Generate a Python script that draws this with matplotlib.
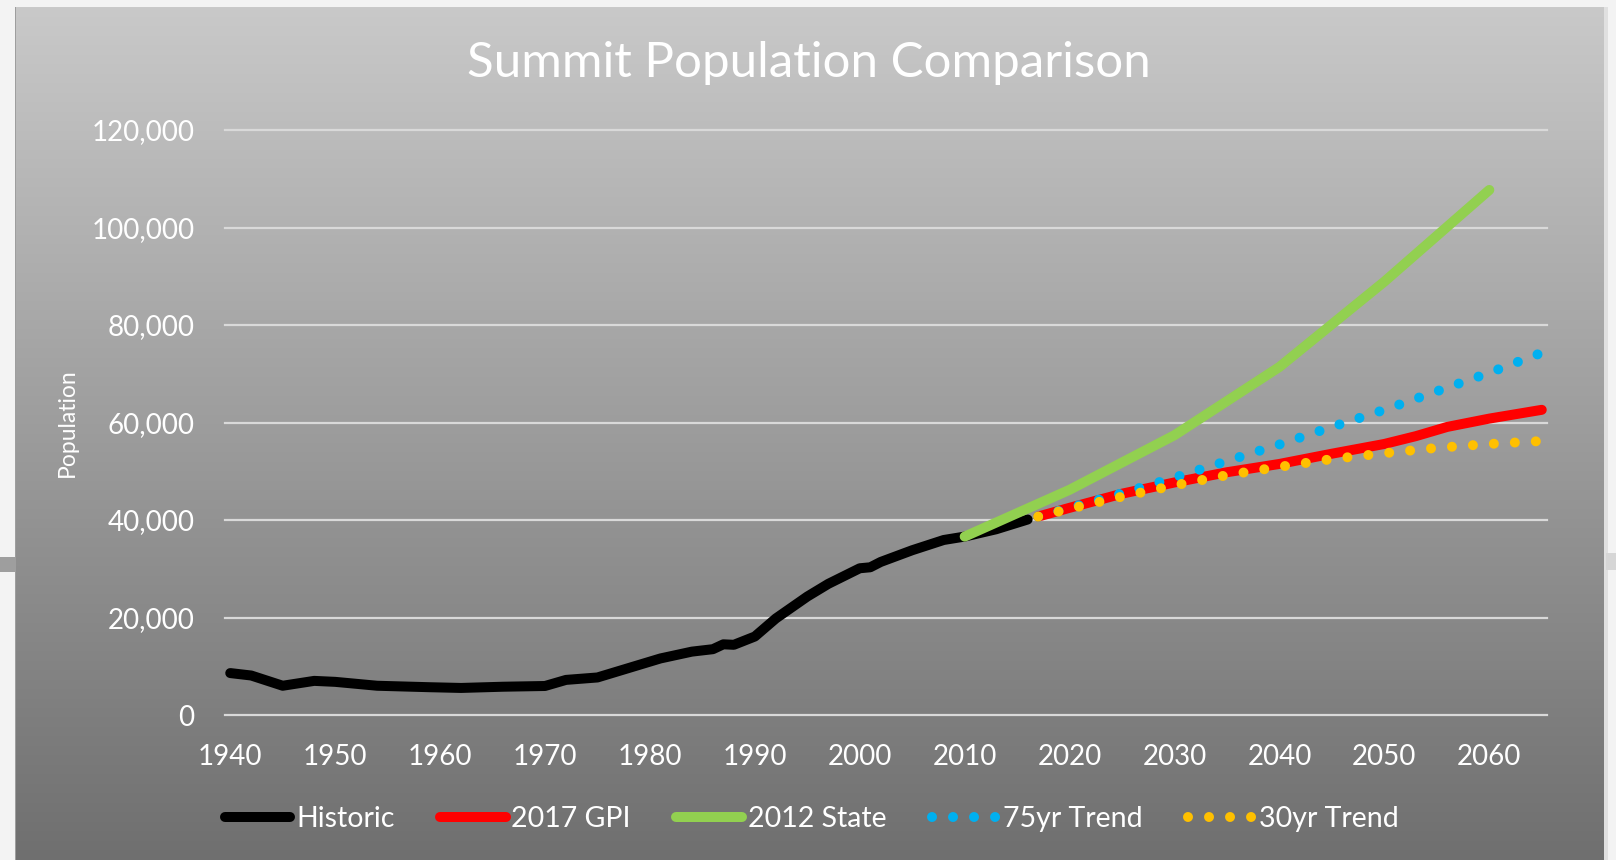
import numpy as np
import matplotlib
matplotlib.use("Agg")
import matplotlib.pyplot as plt
from matplotlib.ticker import FuncFormatter

plt.rcParams['font.family'] = ['Lato', 'DejaVu Sans']

# --- data ---
hist_years = [1940, 1942, 1945, 1948, 1950, 1954, 1959, 1962, 1966, 1970, 1972, 1975,
              1979, 1981, 1984, 1986, 1987, 1988, 1990, 1992, 1995, 1997, 2000, 2001,
              2002, 2005, 2008, 2010, 2013, 2016]
hist_pop = [8600, 8100, 6000, 7000, 6800, 6000, 5700, 5550, 5800, 5950, 7200, 7700,
            10300, 11600, 13000, 13500, 14500, 14400, 16100, 19800, 24300, 26900, 30100, 30300,
            31400, 33800, 35900, 36600, 38100, 40100]

gpi_years = [2017, 2020, 2025, 2030, 2035, 2040, 2045, 2050, 2053, 2056, 2060, 2065]
gpi_pop = [40700, 42500, 45400, 47700, 49800, 51500, 53600, 55600, 57200, 59100, 60800, 62600]

state_years = [2010, 2020, 2030, 2040, 2050, 2060]
state_pop = [36600, 46200, 57400, 71400, 88900, 107700]

trend_years = [2017, 2020, 2025, 2030, 2035, 2040, 2045, 2050, 2055, 2060, 2065]
trend75_pop = [40700, 42500, 45500, 48700, 52100, 55500, 59100, 62600, 66400, 70200, 74300]
trend30_pop = [40700, 42300, 44800, 47100, 49200, 50900, 52500, 53700, 54800, 55600, 56200]

x_ticks = list(range(1940, 2061, 10))
y_ticks = list(range(0, 120001, 20000))

W, H = 1616, 860
fig = plt.figure(figsize=(W / 100, H / 100), dpi=100)

# background: light page with grey gradient chart panel
bg = np.full((H, W, 3), 0.955)
top, bot = 201 / 255, 111 / 255
grad = np.linspace(top, bot, H - 7)[:, None]
bg[7:, 15:1604, :] = grad[:, :, None]
bg[7:, 15, :] = 0.62
bg[7:, 1604:1608, :] = 0.88
bg[557:572, 0:15, :] = 0.62
bg[553:570, 1606:, :] = 0.84
bax = fig.add_axes([0, 0, 1, 1], zorder=-10)
bax.imshow(bg, aspect='auto', interpolation='nearest')
bax.axis('off')

ax = fig.add_axes([225 / W, (H - 715) / H, (1547 - 225) / W, (715 - 130) / H])
ax.patch.set_alpha(0)

lw = 7.2
ax.plot(hist_years, hist_pop, color='black', lw=lw, solid_capstyle='round',
        solid_joinstyle='round', label='Historic', clip_on=False)
ax.plot(gpi_years, gpi_pop, color='#ff0000', lw=lw, solid_capstyle='round',
        solid_joinstyle='round', label='2017 GPI', clip_on=False)
ax.plot(state_years, state_pop, color='#92d050', lw=lw, solid_capstyle='round',
        solid_joinstyle='round', label='2012 State', clip_on=False)
dots = (0, (0.001, 2.1))
ax.plot(trend_years, trend75_pop, color='#00b0f0', lw=lw, ls=dots, dash_capstyle='round',
        label='75yr Trend', clip_on=False)
ax.plot(trend_years, trend30_pop, color='#ffc000', lw=lw, ls=dots, dash_capstyle='round',
        label='30yr Trend', clip_on=False)

ax.set_xlim(1939.5, 2065.5)
ax.set_ylim(0, 120000)
ax.set_xticks(x_ticks)
ax.set_yticks(y_ticks)
ax.yaxis.set_major_formatter(FuncFormatter(lambda v, p: f"{int(v):,}"))
ax.tick_params(length=0, labelsize=20, labelcolor='white')
ax.tick_params(axis='y', pad=22)
ax.tick_params(axis='x', pad=21)
for s in ax.spines.values():
    s.set_visible(False)
ax.grid(axis='y', color='#d9d9d9', lw=1.6)
ax.grid(axis='x', visible=False)
for gl in ax.get_ygridlines():
    gl.set_clip_on(False)
ax.set_axisbelow(True)

fig.text(809 / W, 1 - 63 / H, 'Summit Population Comparison', color='white',
         fontsize=35.5, ha='center', va='center')
fig.text(67 / W, 1 - 423 / H, 'Population', color='white', fontsize=16.5,
         rotation=90, ha='center', va='center')

fig.legend(loc='center', bbox_to_anchor=(812 / W, 1 - 819 / H), ncol=5, frameon=False,
           fontsize=20.5, labelcolor='white', handlelength=2.3, handletextpad=0.2,
           columnspacing=1.6)

fig.savefig('out.png', dpi=100)
